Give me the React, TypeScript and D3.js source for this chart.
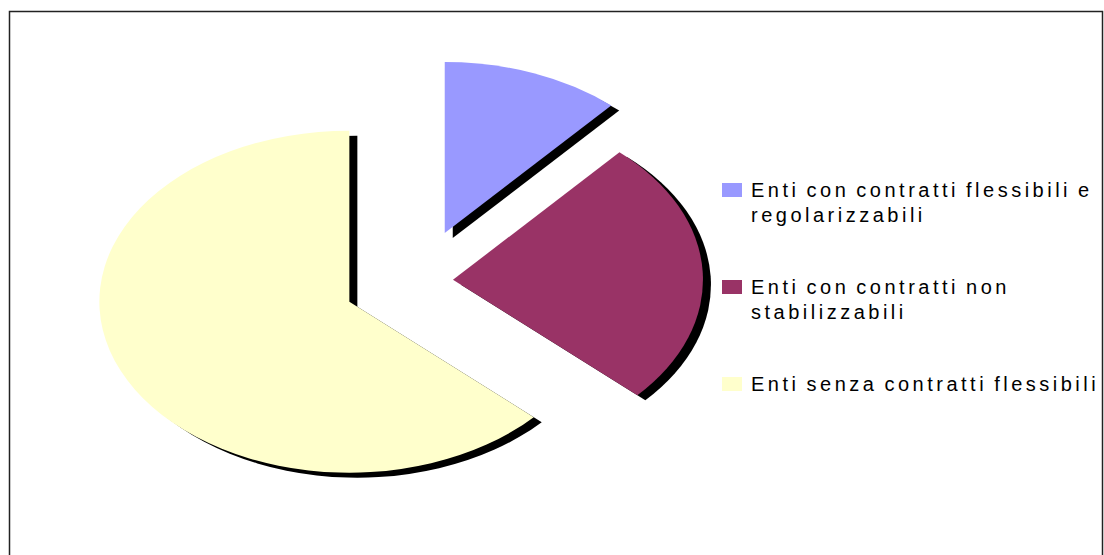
import React, { useMemo } from 'react';
import * as d3 from 'd3';

// slices, clockwise from 12 o'clock
const categories = [
    'Enti con contratti flessibili e regolarizzabili',
    'Enti con contratti non stabilizzabili',
    'Enti senza contratti flessibili',
];
const shares = [11.6, 25.2, 63.2];
const legendLines = [
    ['Enti con contratti flessibili e', 'regolarizzabili'],
    ['Enti con contratti non', 'stabilizzabili'],
    ['Enti senza contratti flessibili'],
];

const colors = ['#9999ff', '#993366', '#ffffcc'];
const explode = [0.3, 0.14, 0.3];

const W = 1104;
const H = 555;

const App = () => {
    const cx = 418;
    const cy = 281;
    const rx = 250;
    const ry = 171;
    const shadow = { dx: 8, dy: 5 };

    const slices = useMemo(() => {
        const pie = d3.pie<number>().sort(null).value(d => d).startAngle(0).endAngle(2 * Math.PI);
        const arc = d3.arc<d3.PieArcDatum<number>>().innerRadius(0).outerRadius(ry);
        return pie(shares).map((p, i) => {
            const mid = (p.startAngle + p.endAngle) / 2;
            const off = explode[i] * ry;
            return {
                d: arc(p) || '',
                ox: Math.sin(mid) * off,
                oy: -Math.cos(mid) * off,
                color: colors[i],
                name: categories[i],
            };
        });
    }, []);

    const sx = rx / ry;
    const legendX = 722;
    const legendTop = 197;
    const legendStep = 97;
    const lineHeight = 25;

    return (
        <svg width={W} height={H} style={{ position: 'absolute', left: 0, top: 0, display: 'block' }}>
            <rect x={0} y={0} width={W} height={H} fill="#fff" />
            <rect x={9.5} y={11.5} width={1093} height={600} fill="none" stroke="#222" strokeWidth={1.5} />

            {/* shadows first, then the slices on top */}
            <g transform={`translate(${cx + shadow.dx},${cy + shadow.dy}) scale(${sx},1)`}>
                {slices.map((s, i) => (
                    <path key={'sh' + i} d={s.d} transform={`translate(${s.ox},${s.oy})`} fill="#000" />
                ))}
            </g>
            <g transform={`translate(${cx},${cy}) scale(${sx},1)`}>
                {slices.map((s, i) => (
                    <path key={'sl' + i} d={s.d} transform={`translate(${s.ox},${s.oy})`} fill={s.color}>
                        <title>{s.name}</title>
                    </path>
                ))}
            </g>

            <g fontFamily="'Liberation Sans', Arial, sans-serif" fontSize={20} fill="#000">
                {legendLines.map((lines, i) => {
                    const base = legendTop + i * legendStep;
                    return (
                        <g key={'lg' + i}>
                            <rect x={legendX} y={base - 14} width={20} height={14} fill={colors[i]} />
                            {lines.map((t, j) => (
                                <text key={j} x={legendX + 29} y={base + j * lineHeight} letterSpacing={3.5} wordSpacing={-2}>
                                    {t}
                                </text>
                            ))}
                        </g>
                    );
                })}
            </g>
        </svg>
    );
};

export default App;
